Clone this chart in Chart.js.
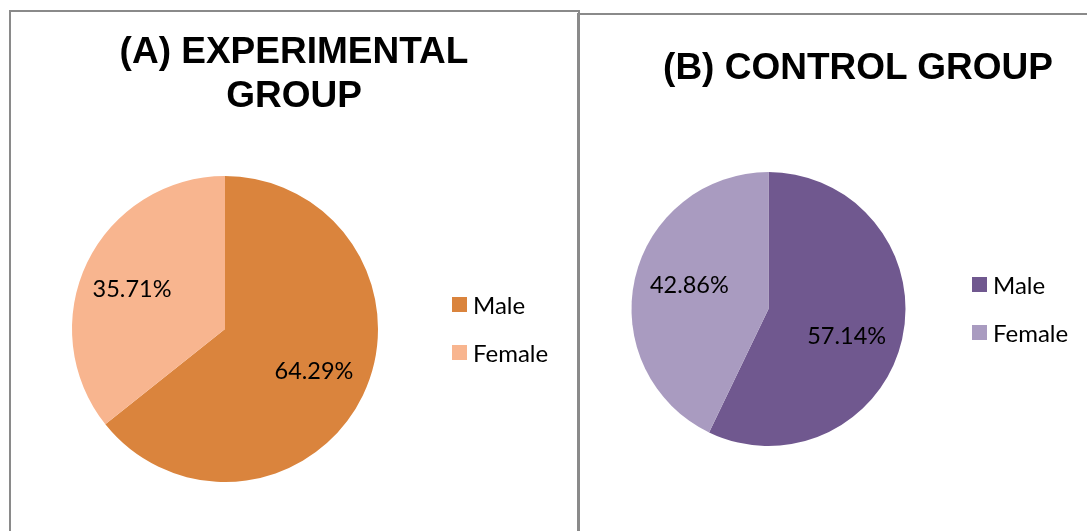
<!DOCTYPE html>
<html>
<head>
<meta charset="utf-8">
<script src="https://cdn.jsdelivr.net/npm/chart.js@4"></script>
<style>
  html, body { margin: 0; padding: 0; background: #fff; }
  body { width: 1087px; height: 531px; overflow: hidden; position: relative; font-family: Lato, "Open Sans", sans-serif; }
  .panel { position: absolute; border: 2px solid #8a8a8a; box-sizing: border-box; background: transparent; }
  #panelA { left: 9px; top: 10px; width: 571px; height: 600px; }
  #panelB { left: 577px; top: 13px; width: 600px; height: 600px; }
  canvas { position: absolute; left: 0; top: 0; }
  .title { position: absolute; font-family: "Liberation Sans", Arial, sans-serif; font-weight: bold; font-size: 37px; line-height: 44px; text-align: center; color: #000; white-space: nowrap; }
  .legend-item { position: absolute; font-size: 24px; line-height: 24px; color: #000; white-space: nowrap; }
  .legend-box { position: absolute; width: 15px; height: 15px; }
</style>
</head>
<body>
<div class="panel" id="panelA"></div>
<div class="panel" id="panelB"></div>
<canvas id="chartA" width="1087" height="531"></canvas>
<canvas id="chartB" width="1087" height="531"></canvas>
<div class="title" style="left:94px; top:29px; width:400px;">(A) EXPERIMENTAL<br>GROUP</div>
<div class="title" style="left:658px; top:45px; width:400px;">(B) CONTROL GROUP</div>
<div id="legendA"></div>
<div id="legendB"></div>
<script>
const categories = ['Male', 'Female'];
const experimentalValues = [64.29, 35.71];
const controlValues = [57.14, 42.86];
const experimentalColors = ['#da843d', '#f8b58f'];
const controlColors = ['#70588f', '#a99bc0'];

// percentage labels inside slices (small nudges like the Excel label placement)
const sliceLabels = {
    id: 'sliceLabels',
    afterDatasetsDraw(chart, args, opts) {
        const ctx = chart.ctx;
        const meta = chart.getDatasetMeta(0);
        const values = chart.data.datasets[0].data;
        ctx.save();
        ctx.font = '23.5px Lato, "Open Sans", sans-serif';
        ctx.fillStyle = '#000';
        ctx.textAlign = 'center';
        ctx.textBaseline = 'middle';
        meta.data.forEach((arc, i) => {
            const mid = (arc.startAngle + arc.endAngle) / 2;
            const d = arc.outerRadius * opts.factor;
            const nudge = opts.nudge[i] || [0, 0];
            ctx.fillText(values[i].toFixed(2) + '%', arc.x + Math.cos(mid) * d + nudge[0], arc.y + Math.sin(mid) * d + nudge[1]);
        });
        ctx.restore();
    }
};

function makePie(id, values, colors, padding, factor, nudge) {
    return new Chart(document.getElementById(id), {
        type: 'pie',
        data: {
            labels: categories,
            datasets: [{ data: values, backgroundColor: colors, borderWidth: 0 }]
        },
        options: {
            responsive: false,
            animation: false,
            layout: { padding },
            plugins: {
                legend: { display: false },
                tooltip: { enabled: false },
                sliceLabels: { factor, nudge }
            }
        },
        plugins: [sliceLabels]
    });
}

function makeLegend(id, colors, x, y, gap) {
    const el = document.getElementById(id);
    el.innerHTML = categories.map((c, i) => `
        <div class="legend-box" style="left:${x}px; top:${y + i * gap}px; background:${colors[i]}"></div>
        <div class="legend-item" style="left:${x + 21}px; top:${y + i * gap - 4}px">${c}</div>
    `).join('');
}

makePie('chartA', experimentalValues, experimentalColors, { left: 72, right: 709, top: 176, bottom: 49 }, 0.66, [[-2, -1], [-2, 4]]);
makePie('chartB', controlValues, controlColors, { left: 631, right: 181, top: 172, bottom: 85 }, 0.6, [[-2, 9], [1, -5]]);
makeLegend('legendA', experimentalColors, 452, 297, 48);
makeLegend('legendB', controlColors, 972, 277, 48);
</script>
</body>
</html>
